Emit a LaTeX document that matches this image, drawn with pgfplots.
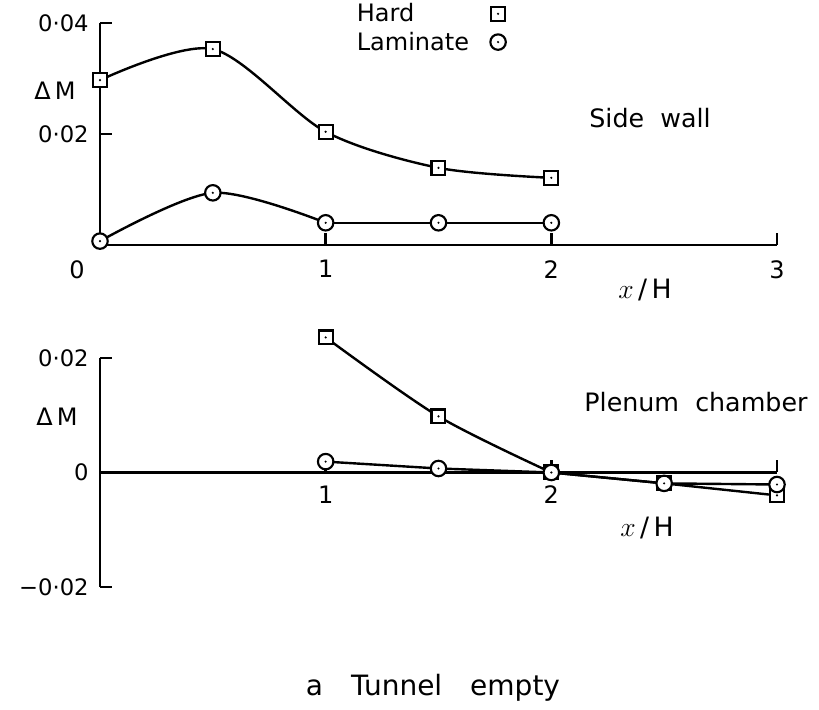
\documentclass[border=0pt]{standalone}
\usepackage{pgfplots}
\pgfplotsset{compat=1.18}
\usepackage{fontspec}
\setmainfont{DejaVu Sans}

\pgfdeclareplotmark{sqdot}{%
  \pgfpathrectanglecorners{\pgfpoint{-\pgfplotmarksize}{-\pgfplotmarksize}}{\pgfpoint{\pgfplotmarksize}{\pgfplotmarksize}}%
  \pgfusepathqfillstroke
  \begin{pgfscope}\pgfsetfillcolor{black}%
  \pgfpathcircle{\pgfpointorigin}{0.9pt}\pgfusepathqfill\end{pgfscope}}
\pgfdeclareplotmark{cidot}{%
  \pgfpathcircle{\pgfpointorigin}{\pgfplotmarksize}\pgfusepathqfillstroke
  \begin{pgfscope}\pgfsetfillcolor{black}%
  \pgfpathcircle{\pgfpointorigin}{0.9pt}\pgfusepathqfill\end{pgfscope}}

\pgfplotsset{
  common/.style={
    scale only axis, width=507.75pt, clip=false,
    xmin=0, xmax=3,
    scaled y ticks=false, scaled x ticks=false,
    tick style={line width=2pt, black},
    major tick length=9pt,
    xticklabel style={font=\fontsize{18}{20}\selectfont},
    yticklabel style={font=\fontsize{17}{19}\selectfont, xshift=-5pt},
    /pgf/number format/assume math mode=true,
  },
  noarrows/.style={
    axis line style={line width=2.2pt,-},
    every outer x axis line/.append style={-, line width=2.2pt},
    every outer y axis line/.append style={-, line width=2.2pt},
    every inner x axis line/.append style={-, line width=2.2pt},
    every inner y axis line/.append style={-, line width=2.2pt},
  },
  hardline/.style={line width=1.8pt, black},
  hardmk/.style={only marks, mark=sqdot, mark size=5.2pt, mark options={fill=white, draw=black, line width=1.6pt}},
  lamline/.style={line width=1.8pt, black},
  lammk/.style={only marks, mark=cidot, mark size=5.8pt, mark options={fill=white, draw=black, line width=1.6pt}},
}

\begin{document}
\begin{tikzpicture}[x=0.75pt,y=0.75pt]
\useasboundingbox (0,0) rectangle (819,710);

% ---------- Top panel: Side wall ----------
\begin{axis}[common,
  at={(75pt,348.75pt)}, anchor=south west, height=166.5pt,
  ymin=0, ymax=0.04,
  axis lines=left, noarrows, tick align=inside,
  xticklabel style={yshift=-8pt},
  xtick={1,2,3}, xticklabels={1,2,3},
  ytick={0.02,0.04}, yticklabels={0·02,\raisebox{-5pt}{0·04}},
  legend style={draw=none, fill=none, at={(0.375,1.10)}, anchor=north west,
    nodes={font=\fontsize{18}{20}\selectfont}, row sep=2pt, column sep=14pt, inner sep=0pt},
  legend cell align=left, legend plot pos=right,
]
\addplot[hardline, smooth, forget plot] coordinates {(0,0.0297) (0.5,0.0353) (1,0.0204) (1.5,0.0139) (2,0.0121)};
\addplot[lamline, smooth, forget plot] coordinates {(0,0.0007) (0.5,0.0094) (1,0.0040)};
\addplot[lamline, forget plot] coordinates {(1,0.0040) (1.5,0.0040) (2,0.0040)};
\addplot[hardmk] coordinates {(0,0.0297) (0.5,0.0353) (1,0.0204) (1.5,0.0139) (2,0.0121)};
\addplot[lammk] coordinates {(0,0.0007) (0.5,0.0094) (1,0.0040) (1.5,0.0040) (2,0.0040)};
\legend{Hard,Laminate}
\end{axis}

% ---------- Bottom panel: Plenum chamber ----------
\begin{axis}[common,
  at={(75pt,92.25pt)}, anchor=south west, height=171.75pt,
  ymin=-0.02, ymax=0.02,
  axis x line=middle, axis y line=left, noarrows,
  xtick align=center, ytick align=inside,
  x tick style={yshift=4.5pt},
  xticklabel style={yshift=-2pt},
  hide obscured x ticks=false, hide obscured y ticks=false,
  xtick={1,2,3}, xticklabels={1,2,{}},
  ytick={-0.02,0,0.02}, yticklabels={−0·02,0,0·02},
]
\addplot[hardline, smooth] coordinates {(1,0.0236) (1.5,0.0098) (2,0.0000)};
\addplot[hardline] coordinates {(2,0.0000) (2.5,-0.0019) (3,-0.0040)};
\addplot[lamline] coordinates {(1,0.0019) (1.5,0.0007) (2,0.0000) (2.5,-0.0019) (3,-0.0021)};
\addplot[hardmk] coordinates {(1,0.0236) (1.5,0.0098) (2,0.0000) (2.5,-0.0019) (3,-0.0040)};
\addplot[lammk] coordinates {(1,0.0019) (1.5,0.0007) (2,0.0000) (2.5,-0.0019) (3,-0.0021)};
\end{axis}

% ---------- Text ----------
\node[font=\fontsize{18}{20}\selectfont] at (77,440) {0};
\node[font=\fontsize{18}{20}\selectfont] at (55,619) {Δ\,M};
\node[font=\fontsize{18}{20}\selectfont] at (57,293) {Δ\,M};
\node[font=\fontsize{19}{21}\selectfont] at (650,592) {Side\ \ wall};
\node[font=\fontsize{19}{21}\selectfont] at (696,308) {Plenum\ \ chamber};
\node[font=\fontsize{20}{22}\selectfont] at (645,420) {$x$\,/\,H};
\node[font=\fontsize{20}{22}\selectfont] at (647,182) {$x$\,/\,H};
\node[font=\fontsize{21}{23}\selectfont] at (433,22) {a\quad Tunnel\quad empty};
\end{tikzpicture}
\end{document}
